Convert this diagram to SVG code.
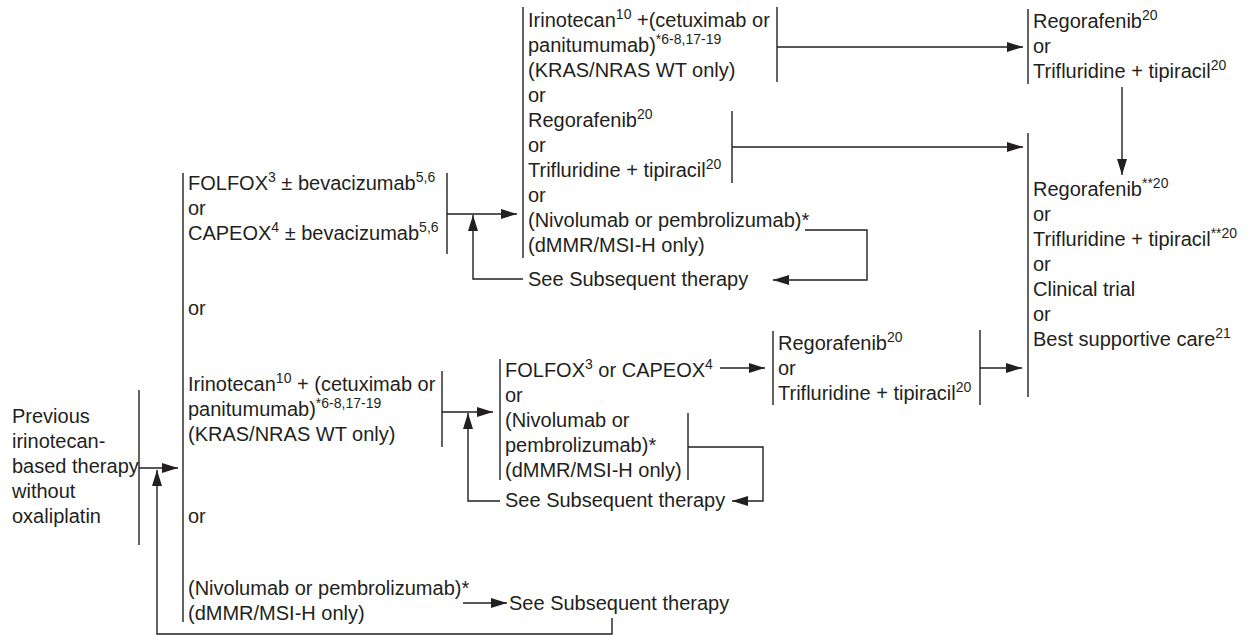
<svg xmlns="http://www.w3.org/2000/svg" width="1260" height="637" viewBox="0 0 1260 637">
<style>
.t{font-family:"Liberation Sans",Arial,Helvetica,sans-serif;font-size:20px;fill:#231f20}
.s{font-size:14px}
.b{stroke:#231f20;stroke-width:1.4;fill:none}
.c{stroke:#231f20;stroke-width:1.4;fill:none}
.a{marker-end:url(#ah)}
</style>
<defs>
<marker id="ah" viewBox="0 0 16 10" refX="16" refY="5" markerWidth="16" markerHeight="10" markerUnits="userSpaceOnUse" orient="auto"><path d="M0,0 L16,5 L0,10 z" fill="#231f20"/></marker>
</defs>
<rect width="1260" height="637" fill="#fff"/>

<g id="previous-therapy">
<line class="b" x1="139" y1="390" x2="139" y2="545"/>
<text class="t" x="12" y="423">Previous</text>
<text class="t" x="12" y="448">irinotecan-</text>
<text class="t" x="12" y="473">based therapy</text>
<text class="t" x="12" y="498">without</text>
<text class="t" x="12" y="523">oxaliplatin</text>
</g>

<g id="first-options">
<line class="b" x1="183" y1="173" x2="183" y2="622"/>
<text class="t" x="188" y="190">FOLFOX<tspan class="s" dy="-8">3</tspan><tspan dy="8"> ± bevacizumab</tspan><tspan class="s" dy="-8">5,6</tspan></text>
<text class="t" x="188" y="215">or</text>
<text class="t" x="188" y="240">CAPEOX<tspan class="s" dy="-8">4</tspan><tspan dy="8"> ± bevacizumab</tspan><tspan class="s" dy="-8">5,6</tspan></text>
<line class="b" x1="447" y1="173" x2="447" y2="254"/>
<text class="t" x="188" y="315">or</text>
<text class="t" x="188" y="391">Irinotecan<tspan class="s" dy="-8">10</tspan><tspan dy="8"> + (cetuximab or</tspan></text>
<text class="t" x="188" y="416">panitumumab)<tspan class="s" dy="-8">*6-8,17-19</tspan></text>
<text class="t" x="188" y="441">(KRAS/NRAS WT only)</text>
<line class="b" x1="442" y1="371" x2="442" y2="447"/>
<text class="t" x="188" y="523">or</text>
<text class="t" x="188" y="595">(Nivolumab or pembrolizumab)*</text>
<text class="t" x="188" y="620">(dMMR/MSI-H only)</text>
</g>

<g id="after-folfox">
<line class="b" x1="523" y1="7" x2="523" y2="258"/>
<text class="t" x="528" y="27">Irinotecan<tspan class="s" dy="-8">10</tspan><tspan dy="8"> +(cetuximab or</tspan></text>
<text class="t" x="528" y="52">panitumumab)<tspan class="s" dy="-8">*6-8,17-19</tspan></text>
<text class="t" x="528" y="77">(KRAS/NRAS WT only)</text>
<line class="b" x1="777" y1="7" x2="777" y2="82"/>
<text class="t" x="528" y="102">or</text>
<text class="t" x="528" y="127">Regorafenib<tspan class="s" dy="-8">20</tspan></text>
<text class="t" x="528" y="152">or</text>
<text class="t" x="528" y="177">Trifluridine + tipiracil<tspan class="s" dy="-8">20</tspan></text>
<line class="b" x1="732" y1="111" x2="732" y2="183"/>
<text class="t" x="528" y="202">or</text>
<text class="t" x="528" y="227">(Nivolumab or pembrolizumab)*</text>
<text class="t" x="528" y="252">(dMMR/MSI-H only)</text>
</g>

<g id="see-subsequent-top">
<text class="t" x="528" y="286">See Subsequent therapy</text>
</g>

<g id="third-line-top">
<line class="b" x1="1028" y1="9" x2="1028" y2="84"/>
<text class="t" x="1033" y="28">Regorafenib<tspan class="s" dy="-8">20</tspan></text>
<text class="t" x="1033" y="53">or</text>
<text class="t" x="1033" y="78">Trifluridine + tipiracil<tspan class="s" dy="-8">20</tspan></text>
</g>

<g id="final-options">
<line class="b" x1="1028" y1="133" x2="1028" y2="397"/>
<text class="t" x="1033" y="196">Regorafenib<tspan class="s" dy="-8">**20</tspan></text>
<text class="t" x="1033" y="221">or</text>
<text class="t" x="1033" y="246">Trifluridine + tipiracil<tspan class="s" dy="-8">**20</tspan></text>
<text class="t" x="1033" y="271">or</text>
<text class="t" x="1033" y="296">Clinical trial</text>
<text class="t" x="1033" y="321">or</text>
<text class="t" x="1033" y="346">Best supportive care<tspan class="s" dy="-8">21</tspan></text>
</g>

<g id="after-irinotecan">
<line class="b" x1="500" y1="359" x2="500" y2="480"/>
<text class="t" x="505" y="377">FOLFOX<tspan class="s" dy="-8">3</tspan><tspan dy="8"> or CAPEOX</tspan><tspan class="s" dy="-8">4</tspan></text>
<text class="t" x="505" y="402">or</text>
<text class="t" x="505" y="427">(Nivolumab or</text>
<text class="t" x="505" y="452">pembrolizumab)*</text>
<text class="t" x="505" y="477">(dMMR/MSI-H only)</text>
<line class="b" x1="688" y1="413" x2="688" y2="480"/>
</g>

<g id="see-subsequent-middle">
<text class="t" x="505" y="507">See Subsequent therapy</text>
</g>

<g id="third-line-middle">
<line class="b" x1="773" y1="331" x2="773" y2="405"/>
<text class="t" x="778" y="350">Regorafenib<tspan class="s" dy="-8">20</tspan></text>
<text class="t" x="778" y="375">or</text>
<text class="t" x="778" y="400">Trifluridine + tipiracil<tspan class="s" dy="-8">20</tspan></text>
<line class="b" x1="980" y1="330" x2="980" y2="405"/>
</g>

<g id="see-subsequent-bottom">
<text class="t" x="509" y="610">See Subsequent therapy</text>
</g>

<g id="connectors">
<path class="c a" d="M139,468 H178"/>
<path class="c a" d="M612,618 V634 H157 V470"/>
<path class="c a" d="M447,214 H517"/>
<path class="c a" d="M523,279 H473 V215"/>
<path class="c a" d="M777,47 H1023"/>
<path class="c a" d="M732,147 H1023"/>
<path class="c a" d="M1122,87 V175"/>
<path class="c a" d="M805,230 H867 V280 H773"/>
<path class="c a" d="M442,412 H493"/>
<path class="c a" d="M500,501 H468 V413"/>
<path class="c a" d="M720,368 H765"/>
<path class="c a" d="M688,447 H763 V501 H732"/>
<path class="c a" d="M980,368 H1022"/>
<path class="c a" d="M463,603 H507"/>
</g>
</svg>
